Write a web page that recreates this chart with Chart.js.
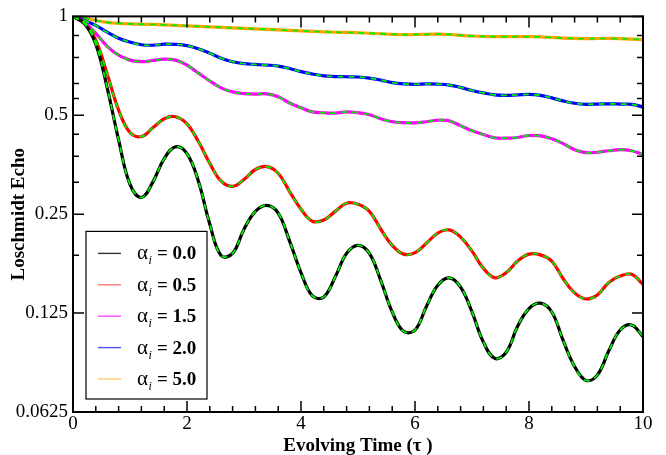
<!DOCTYPE html>
<html><head><meta charset="utf-8">
<script src="https://cdn.jsdelivr.net/npm/chart.js@4"></script>
<style>html,body{margin:0;padding:0;background:#fff}</style>
</head><body>
<canvas id="c" width="666" height="455"></canvas>
<script>
const time = [0,0.2,0.4,0.6,0.8,1.0,1.2,1.4,1.6,1.8,2.0,2.2,2.4,2.6,2.8,3.0,3.2,3.4,3.6,3.8,4.0,4.2,4.4,4.6,4.8,5.0,5.2,5.4,5.6,5.8,6.0,6.2,6.4,6.6,6.8,7.0,7.2,7.4,7.6,7.8,8.0,8.2,8.4,8.6,8.8,9.0,9.2,9.4,9.6,9.8,10.0];
const echoA00 = [1.0,0.952,0.823,0.606,0.421,0.308,0.281,0.313,0.369,0.401,0.382,0.315,0.233,0.187,0.190,0.225,0.255,0.266,0.252,0.207,0.166,0.141,0.140,0.161,0.190,0.201,0.190,0.157,0.126,0.110,0.111,0.131,0.152,0.160,0.150,0.126,0.102,0.091,0.095,0.114,0.129,0.134,0.126,0.103,0.086,0.078,0.081,0.096,0.111,0.115,0.106];
const echoA05 = [1.0,0.952,0.846,0.668,0.519,0.443,0.431,0.458,0.488,0.495,0.471,0.416,0.357,0.315,0.304,0.319,0.342,0.349,0.333,0.293,0.259,0.238,0.240,0.255,0.270,0.268,0.255,0.225,0.201,0.189,0.191,0.204,0.219,0.224,0.213,0.193,0.171,0.160,0.166,0.180,0.189,0.188,0.180,0.159,0.144,0.138,0.142,0.155,0.162,0.164,0.153];
const echoA15 = [1.0,0.959,0.888,0.811,0.762,0.736,0.728,0.734,0.741,0.736,0.711,0.672,0.636,0.606,0.589,0.582,0.580,0.581,0.569,0.545,0.527,0.512,0.509,0.508,0.512,0.509,0.502,0.488,0.478,0.475,0.474,0.478,0.483,0.481,0.465,0.449,0.437,0.427,0.426,0.428,0.434,0.433,0.424,0.410,0.393,0.385,0.386,0.390,0.393,0.390,0.380];
const echoA20 = [1.0,0.972,0.939,0.895,0.858,0.835,0.820,0.817,0.823,0.822,0.815,0.797,0.773,0.746,0.728,0.718,0.714,0.711,0.706,0.694,0.679,0.668,0.659,0.656,0.655,0.654,0.649,0.640,0.629,0.623,0.621,0.623,0.622,0.618,0.608,0.595,0.585,0.577,0.575,0.577,0.579,0.575,0.565,0.553,0.544,0.540,0.541,0.542,0.541,0.540,0.530];
const echoA50 = [1.0,0.9896,0.9725,0.9590,0.9524,0.9491,0.9465,0.9450,0.9425,0.9392,0.9360,0.9327,0.9295,0.9262,0.9230,0.9198,0.9167,0.9135,0.9103,0.9072,0.9041,0.9009,0.8978,0.8950,0.8940,0.8916,0.8886,0.8855,0.8822,0.8805,0.8808,0.8822,0.8833,0.8810,0.8760,0.8718,0.8688,0.8675,0.8678,0.8681,0.8676,0.8663,0.8627,0.8591,0.8567,0.8561,0.8565,0.8567,0.8555,0.8532,0.8502];
const seriesValues = [echoA00, echoA05, echoA15, echoA20, echoA50];
const seriesLabels = ['0.0','0.5','1.5','2.0','5.0'];
const seriesColors = ['#000000','#ff0000','#ff00ff','#0000ff','#ffa500'];
const legendColors = ['#333333','#ff7a7a','#ff50ff','#5050ff','#ffc870'];
const fitColor = '#00ee00';
const yMajorTicks = [0.0625,0.125,0.25,0.5,1];
const yMinorTicks = [0.875,0.75,0.625,0.5625,0.4375,0.375,0.3125,0.1875];
const xMajorTicks = [0,2,4,6,8,10];
const xMinorTicks = [0.4,0.8,1.2,1.6,2.4,2.8,3.2,3.6,4.4,4.8,5.2,5.6,6.4,6.8,7.2,7.6,8.4,8.8,9.2,9.6];

const FONT = '"Liberation Serif", "Times New Roman", serif';

const datasets = [];
seriesValues.forEach((arr, i) => {
  datasets.push({
    label: 'a' + seriesLabels[i],
    data: time.map((t, j) => ({x: t, y: arr[j]})),
    borderColor: seriesColors[i],
    borderWidth: 3.2,
    pointRadius: 0,
    tension: 0.4,
    order: 2,
    fill: false
  });
});
seriesValues.forEach((arr, i) => {
  datasets.push({
    label: 'fit' + seriesLabels[i],
    data: time.map((t, j) => ({x: t, y: arr[j]})),
    borderColor: fitColor,
    borderWidth: 1.8,
    borderDash: [6, 5],
    pointRadius: 0,
    tension: 0.4,
    order: 1,
    fill: false
  });
});

const framePlugin = {
  id: 'frame',
  afterDatasetsDraw(chart) {
    const ctx = chart.ctx, ca = chart.chartArea;
    const xs = chart.scales.x, ys = chart.scales.y;
    ctx.save();
    ctx.strokeStyle = '#000';
    ctx.lineWidth = 1.5;
    ctx.beginPath();
    const tickX = (v, len) => {
      const p = xs.getPixelForValue(v);
      ctx.moveTo(p, ca.bottom); ctx.lineTo(p, ca.bottom - len);
      ctx.moveTo(p, ca.top); ctx.lineTo(p, ca.top + len);
    };
    const tickY = (v, len) => {
      const p = ys.getPixelForValue(v);
      ctx.moveTo(ca.left, p); ctx.lineTo(ca.left + len, p);
      ctx.moveTo(ca.right, p); ctx.lineTo(ca.right - len, p);
    };
    xMajorTicks.forEach(v => tickX(v, 11));
    xMinorTicks.forEach(v => tickX(v, 6));
    yMajorTicks.forEach(v => tickY(v, 11));
    yMinorTicks.forEach(v => tickY(v, 6));
    ctx.stroke();
    ctx.lineWidth = 2;
    ctx.strokeRect(ca.left, ca.top, ca.right - ca.left, ca.bottom - ca.top);

    // legend
    const bx = ca.left + 13, by = ca.top + 215, bw = 121, bh = ca.bottom - 13 - by;
    ctx.fillStyle = '#fff';
    ctx.fillRect(bx, by, bw, bh);
    ctx.lineWidth = 1.2;
    ctx.strokeStyle = '#000';
    ctx.strokeRect(bx, by, bw, bh);
    seriesLabels.forEach((lab, i) => {
      const ry = by + 22 + i * 31.4;
      ctx.strokeStyle = legendColors[i];
      ctx.lineWidth = 1.4;
      ctx.beginPath();
      ctx.moveTo(bx + 12, ry); ctx.lineTo(bx + 35, ry);
      ctx.stroke();
      ctx.fillStyle = '#000';
      ctx.textBaseline = 'alphabetic';
      ctx.textAlign = 'left';
      ctx.font = '21px ' + FONT;
      const base = ry + 6;
      ctx.fillText('α', bx + 51, base);
      const aw = ctx.measureText('α').width;
      ctx.font = 'italic 12px ' + FONT;
      ctx.fillText('i', bx + 51 + aw + 0.5, base + 5);
      ctx.font = 'bold 19px ' + FONT;
      ctx.fillText('= ' + lab, bx + 71, base);
    });
    ctx.restore();
  }
};

new Chart(document.getElementById('c'), {
  type: 'line',
  data: { datasets },
  options: {
    responsive: false,
    animation: false,
    events: [],
    layout: { padding: { top: 14, right: 23, left: 0, bottom: 0 } },
    plugins: { legend: { display: false }, tooltip: { enabled: false } },
    scales: {
      x: {
        type: 'linear', min: 0, max: 10,
        grid: { display: false, drawTicks: false },
        border: { display: false },
        afterBuildTicks: s => { s.ticks = xMajorTicks.map(v => ({value: v})); },
        afterFit: s => { s.height = 43; },
        ticks: { font: { family: FONT, size: 19 }, color: '#000', padding: 1, maxRotation: 0, callback: v => String(v) },
        title: { display: true, text: 'Evolving Time (τ )', font: { family: FONT, size: 19, weight: 'bold' }, color: '#000', padding: { top: 0, bottom: -2 } }
      },
      y: {
        type: 'logarithmic', min: 0.0625, max: 1,
        grid: { display: false, drawTicks: false },
        border: { display: false },
        afterBuildTicks: s => { s.ticks = yMajorTicks.map(v => ({value: v})); },
        afterFit: s => { s.width = 73; },
        ticks: { font: { family: FONT, size: 19 }, color: '#000', padding: 5, callback: v => String(v) },
        title: { display: true, text: 'Loschmidt Echo', font: { family: FONT, size: 19, weight: 'bold' }, color: '#000', padding: { top: 8, bottom: 0 } }
      }
    }
  },
  plugins: [framePlugin]
});
</script>
</body></html>
